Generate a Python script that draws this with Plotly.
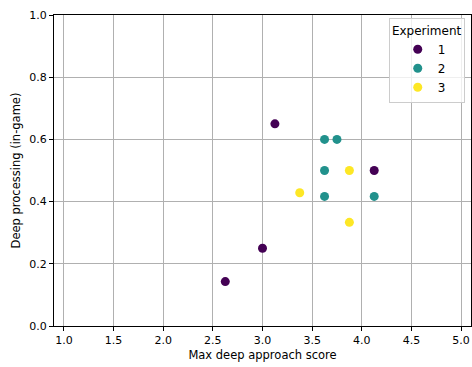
import plotly.graph_objects as go

# Max deep approach score vs. in-game deep processing, per experiment
exp1_x = [2.625, 3.0, 3.125, 4.125]
exp1_y = [1 / 7, 0.25, 0.65, 0.5]
exp2_x = [3.625, 3.75, 3.625, 3.625, 4.125]
exp2_y = [0.6, 0.6, 0.5, 5 / 12, 5 / 12]
exp3_x = [3.375, 3.875, 3.875]
exp3_y = [3 / 7, 0.5, 1 / 3]

series = [
    ("1", exp1_x, exp1_y, "#440154"),
    ("2", exp2_x, exp2_y, "#21918c"),
    ("3", exp3_x, exp3_y, "#fde725"),
]

x_ticks = [1.0, 1.5, 2.0, 2.5, 3.0, 3.5, 4.0, 4.5, 5.0]
y_ticks = [0.0, 0.2, 0.4, 0.6, 0.8, 1.0]

fig = go.Figure()
for name, xs, ys, color in series:
    fig.add_trace(go.Scatter(
        x=xs, y=ys, mode="markers", name=name,
        marker=dict(color=color, size=9, line=dict(width=0)),
    ))

axis_common = dict(
    showline=True, linecolor="black", linewidth=1, mirror=True,
    ticks="outside", ticklen=4, tickwidth=1, tickcolor="black",
    showgrid=True, gridcolor="#b0b0b0", gridwidth=1,
    zeroline=False, tickfont=dict(size=11, color="black"),
)

fig.update_xaxes(
    range=[0.9, 5.1], tickvals=x_ticks,
    ticktext=[f"{v:.1f}" for v in x_ticks],
    title=dict(text="Max deep approach score", font=dict(size=11.5, color="black"), standoff=4),
    **axis_common,
)
fig.update_yaxes(
    range=[0, 1], tickvals=y_ticks,
    ticktext=[f"{v:.1f}" for v in y_ticks],
    title=dict(text="Deep processing (in-game)", font=dict(size=11.5, color="black"), standoff=6),
    **axis_common,
)

fig.update_layout(
    width=472, height=367,
    margin=dict(l=54, r=1, t=15, b=41),
    plot_bgcolor="white", paper_bgcolor="white",
    font=dict(family="DejaVu Sans", size=11, color="black"),
    legend=dict(
        title=dict(text="Experiment", font=dict(size=12), side="top center"),
        x=0.985, y=0.99, xanchor="right", yanchor="top",
        bgcolor="rgba(255,255,255,0.8)", bordercolor="#cccccc", borderwidth=1,
        font=dict(size=12), itemwidth=30, tracegroupgap=0,
        indentation=8,
    ),
)

fig.write_html("out.html")
